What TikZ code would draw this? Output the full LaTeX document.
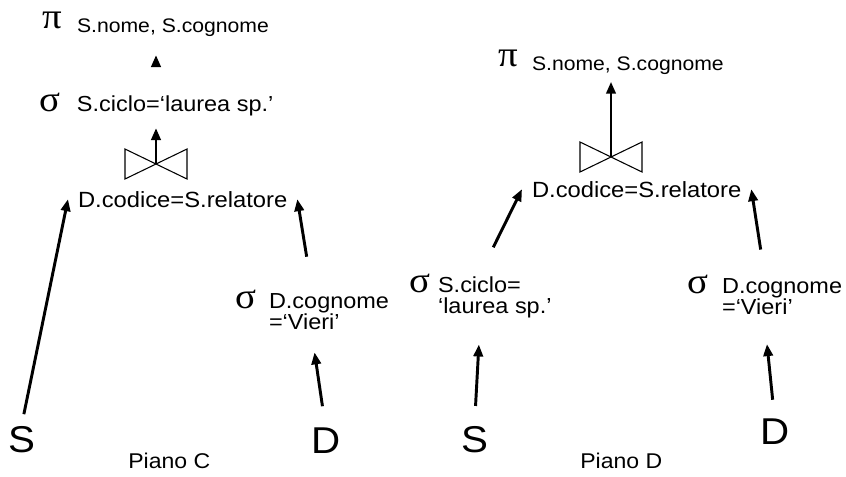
\documentclass[tikz,border=0pt]{standalone}
\usepackage{fontspec}
\setmainfont{Liberation Sans}[FakeStretch=1.08]
\newfontfamily\greekfont{Liberation Serif}[FakeStretch=1.08]
\usetikzlibrary{arrows.meta}

\newcommand{\gk}{\greekfont\fontsize{27}{27}\selectfont}
\newcommand{\op}[3]{\makebox[#2][l]{\gk #1}\begin{tabular}[t]{@{}l@{}}#3\end{tabular}}

\tikzset{
  lbl/.style={inner sep=0pt, outer sep=0pt, anchor=base west, font=\fontsize{16.3}{14.3}\selectfont},
  proj/.style={lbl, font=\fontsize{14.7}{14.3}\selectfont},
  cond/.style={inner sep=0pt, outer sep=7.5pt, anchor=base west, font=\fontsize{16.5}{18}\selectfont},
  rel/.style={inner sep=0pt, outer sep=0pt, anchor=base west, font=\fontsize{28}{30}\selectfont},
  plan/.style={inner sep=0pt, anchor=base west, font=\fontsize{16}{18}\selectfont},
  arr/.style={-{Triangle[length=9pt,width=7pt]}, line width=2.2pt},
  bowtie/.style={line width=0.8pt, line join=miter}
}

\begin{document}
\begin{tikzpicture}[x=0.75pt, y=-0.75pt]
  \useasboundingbox (0,0) rectangle (846,476);

  % Piano C
  \node[proj] (piC) at (42,32) {\op{\raisebox{2.5pt}{π}}{26.3pt}{S.nome, S.cognome}};
  \node[lbl] (selC1) at (39,111) {\op{σ}{28.5pt}{S.ciclo=`laurea sp.'}};
  \coordinate (bowC) at (156,164);
  \node[cond] (jcC) at (68,207) {D.codice=S.relatore};
  \node[lbl] (selC2) at (235,308) {\op{σ}{25.5pt}{D.cognome\\=`Vieri'}};
  \node[rel] (SC) at (8,452) {S};
  \node[rel] (DC) at (311,453) {D};
  \node[plan] (planC) at (128,468) {Piano C};

  \draw[bowtie] (bowC) -- ++(-31,-15) -- ++(0,30) -- cycle;
  \draw[bowtie] (bowC) -- ++(31,-15) -- ++(0,30) -- cycle;

  \draw[arr, shorten <=22.5pt, shorten >=13pt] (bowC |- selC1.north) -- (bowC |- piC.south);
  \draw[arr, shorten >=8.5pt] (bowC) -- (bowC |- selC1.south);
  \draw[arr, shorten <=9pt] (SC.north) -- (jcC.west);
  \draw[arr, shorten <=25pt] (selC2.north) -- (jcC.east);
  \draw[arr, shorten <=16pt, shorten >=13pt] (DC.north) -- (selC2.south);

  % Piano D
  \node[proj] (piD) at (498,70) {\op{\raisebox{2.5pt}{π}}{25.5pt}{S.nome, S.cognome}};
  \coordinate (bowD) at (611,157);
  \node[cond] (jcD) at (522,197) {D.codice=S.relatore};
  \node[lbl] (selD1) at (409,292) {\op{σ}{21.8pt}{S.ciclo=\\`laurea sp.'}};
  \node[lbl] (selD2) at (687,293) {\op{σ}{26.3pt}{D.cognome\\=`Vieri'}};
  \node[rel] (SD) at (461,452) {S};
  \node[rel] (DD) at (760,444) {D};
  \node[plan] (planD) at (580,468) {Piano D};

  \draw[bowtie] (bowD) -- ++(-31,-15) -- ++(0,30) -- cycle;
  \draw[bowtie] (bowD) -- ++(31,-15) -- ++(0,30) -- cycle;

  \draw[arr, shorten >=4.5pt] (bowD) -- (bowD |- piD.south);
  \draw[arr, shorten <=22pt] (selD1.north) -- (jcD.west);
  \draw[arr, shorten <=19pt] (selD2.north) -- (jcD.east);
  \draw[arr, shorten <=15pt, shorten >=19pt] (SD.north) -- (selD1.south);
  \draw[arr, shorten <=14pt, shorten >=18pt] (DD.north) -- (selD2.south);

\end{tikzpicture}
\end{document}
